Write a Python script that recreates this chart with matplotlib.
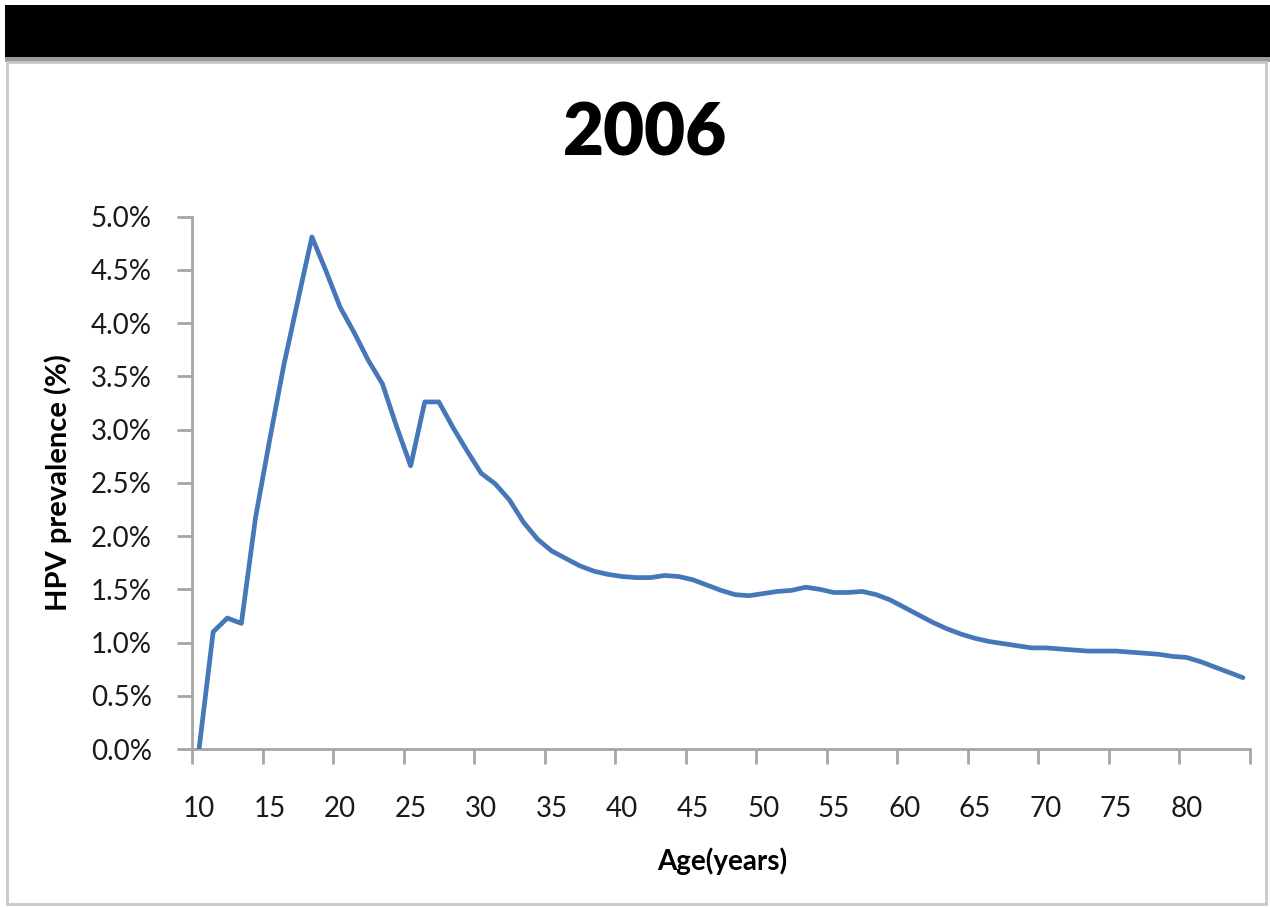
import matplotlib
matplotlib.use("Agg")
import matplotlib.pyplot as plt
from matplotlib.patches import Rectangle
from matplotlib.ticker import FuncFormatter

# Age-specific HPV prevalence, 2006
ages = list(range(10, 85))
prevalence_pct = [
    0.00, 1.10, 1.23, 1.18, 2.17, 2.90, 3.60, 4.21, 4.81, 4.49,
    4.15, 3.91, 3.65, 3.43, 3.03, 2.66, 3.26, 3.26, 3.02, 2.80,
    2.59, 2.49, 2.34, 2.13, 1.97, 1.86, 1.79, 1.72, 1.67, 1.64,
    1.62, 1.61, 1.61, 1.63, 1.62, 1.59, 1.54, 1.49, 1.45, 1.44,
    1.46, 1.48, 1.49, 1.52, 1.50, 1.47, 1.47, 1.48, 1.45, 1.40,
    1.33, 1.26, 1.19, 1.13, 1.08, 1.04, 1.01, 0.99, 0.97, 0.95,
    0.95, 0.94, 0.93, 0.92, 0.92, 0.92, 0.91, 0.90, 0.89, 0.87,
    0.86, 0.82, 0.77, 0.72, 0.67,
]
x_labels = [str(a) for a in range(10, 85, 5)]
y_ticks = [0.0, 0.5, 1.0, 1.5, 2.0, 2.5, 3.0, 3.5, 4.0, 4.5, 5.0]

title = "2006"
x_title = "Age(years)"
y_title = "HPV prevalence (%)"

FONT = ["Lato", "DejaVu Sans"]
plt.rcParams["font.family"] = FONT

W, H = 1270, 907
fig = plt.figure(figsize=(W / 100, H / 100), dpi=100)
fig.patch.set_facecolor("white")

# slide header band and panel frame
fig.patches.append(Rectangle((5 / W, 1 - 57 / H), 1 - 5 / W, 52 / H,
                             transform=fig.transFigure, facecolor="black",
                             edgecolor="none", zorder=0))
fig.patches.append(Rectangle((5 / W, 1 - 62 / H), 1 - 5 / W, 5 / H,
                             transform=fig.transFigure, facecolor="#9a9a9a",
                             edgecolor="none", zorder=0))
fig.patches.append(Rectangle((7 / W, 1 - 904 / H), 1259 / W, 842 / H,
                             transform=fig.transFigure, facecolor="none",
                             edgecolor="#c8c8c8", linewidth=2, zorder=0))

ax = fig.add_axes([192 / W, 1 - 749 / H, (1250 - 192) / W, (749 - 216.7) / H])
ax.plot(ages, prevalence_pct, color="#4677b8", linewidth=3.4,
        solid_joinstyle="round", solid_capstyle="round", zorder=3)

ax.set_xlim(ages[0] - 0.5, ages[-1] + 0.5)
ax.set_ylim(0, 5.0)

# category-style axis: ticks on boundaries, labels on categories
boundaries = [a - 0.5 for a in range(10, 86, 5)]
ax.set_xticks(boundaries)
ax.set_xticklabels([])
ax.set_xticks([int(s) for s in x_labels], minor=True)
ax.set_xticklabels(x_labels, minor=True)
ax.tick_params(axis="x", which="minor", length=0, pad=34, labelsize=20)
ax.tick_params(axis="x", which="major", length=11, width=2, color="#a6a6a6",
               direction="out")

ax.set_yticks(y_ticks)
ax.yaxis.set_major_formatter(FuncFormatter(lambda v, _: f"{v:.1f}%"))
ax.tick_params(axis="y", length=11, width=2, color="#a6a6a6", direction="out",
               pad=18, labelsize=20)

for s in ("top", "right"):
    ax.spines[s].set_visible(False)
for s in ("left", "bottom"):
    ax.spines[s].set_color("#a6a6a6")
    ax.spines[s].set_linewidth(2)

for lbl in ax.get_xticklabels(minor=True) + ax.get_yticklabels():
    lbl.set_color("#1a1a1a")

fig.text(645 / W, 1 - 135 / H, title, ha="center", va="center",
         fontsize=51, fontweight="heavy", color="black")
fig.text(722 / W, 1 - 861 / H, x_title, ha="center", va="center",
         fontsize=20, fontweight="bold", color="black")
fig.text(58 / W, 1 - 483 / H, y_title, ha="center", va="center",
         rotation=90, fontsize=21, fontweight="bold", color="black")

fig.savefig("out.png", dpi=100)
